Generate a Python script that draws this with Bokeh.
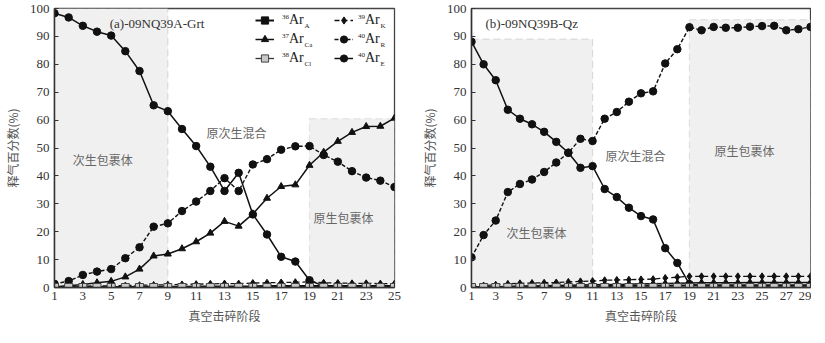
from bokeh.plotting import figure
from bokeh.models import (Range1d, FixedTicker, BoxAnnotation, Label, Legend, LegendItem)
from bokeh.layouts import row
from bokeh.embed import file_html
from bokeh.resources import INLINE

# ---------------- data ----------------
steps_a = [1, 2, 3, 4, 5, 6, 7, 8, 9, 10, 11, 12, 13, 14, 15, 16, 17, 18, 19, 20, 21, 22, 23, 24, 25]
ar40E_a = [98.3, 96.8, 93.8, 91.7, 90.3, 84.7, 77.6, 65.3, 63.2, 56.8, 50.7, 43.3, 34.6, 41.1, 26.2,
           19.0, 11.0, 9.3, 2.6, 0.5, 0.4, 0.4, 0.4, 0.3, 0.3]
ar40R_a = [1.3, 2.3, 4.5, 5.7, 6.6, 10.5, 14.4, 21.8, 23.0, 27.4, 30.8, 34.6, 39.2, 34.6, 44.1,
           46.0, 49.4, 50.6, 50.7, 47.5, 45.1, 41.7, 39.4, 38.3, 36.0]
ar37Ca_a = [0.3, 0.6, 1.1, 1.7, 2.2, 3.8, 6.6, 11.3, 12.0, 13.9, 16.4, 19.5, 23.7, 22.0, 26.4,
            32.0, 36.2, 36.8, 43.8, 48.5, 52.4, 55.6, 57.7, 57.8, 60.7]
ar39K_a = [0.3, 0.4, 0.5, 0.6, 0.6, 0.7, 0.8, 0.9, 1.0, 1.1, 1.2, 1.3, 1.4, 1.4, 1.6,
           1.7, 1.8, 1.9, 2.0, 1.7, 1.6, 1.5, 1.5, 1.4, 1.4]
ar36A_a = [0.1, 0.1, 0.2, 0.2, 0.2, 0.2, 0.3, 0.3, 0.3, 0.3, 0.4, 0.4, 0.4, 0.4, 0.4,
           0.5, 0.5, 0.5, 0.5, 0.5, 0.5, 0.5, 0.5, 0.5, 0.5]
ar38Cl_a = [0.0, 0.0, 0.0, 0.0, 0.0, 0.0, 0.0, 0.0, 0.0, 0.0, 0.0, 0.0, 0.0, 0.0, 0.0,
            0.0, 0.0, 0.0, 0.0, 0.0, 0.0, 0.0, 0.0, 0.0, 0.0]

steps_b = [1, 2, 3, 4, 5, 6, 7, 8, 9, 10, 11, 12, 13, 14, 15, 16, 17, 18, 19, 20, 21, 22, 23, 24, 25,
           26, 27, 28, 29]
ar40E_b = [88.1, 80.0, 74.3, 63.7, 60.5, 58.5, 55.8, 52.2, 48.3, 42.9, 43.5, 35.3, 32.4, 28.6, 25.6,
           24.4, 14.1, 8.8, 1.2, 0.6, 0.5, 0.5, 0.5, 0.5, 0.5, 0.5, 0.5, 0.5, 0.5]
ar40R_b = [10.8, 18.8, 24.0, 34.2, 37.1, 38.7, 41.4, 44.8, 48.3, 53.3, 52.5, 60.5, 62.9, 66.6, 69.6,
           70.3, 80.3, 85.4, 93.3, 92.2, 93.4, 93.1, 93.1, 93.5, 93.7, 93.8, 92.2, 92.6, 93.4]
ar39K_b = [0.3, 0.7, 1.0, 1.3, 1.5, 1.6, 1.7, 1.8, 2.0, 2.2, 2.3, 2.6, 2.7, 2.8, 2.9,
           3.0, 3.4, 3.7, 4.0, 4.0, 4.0, 4.0, 4.0, 4.0, 4.0, 4.0, 4.0, 4.0, 4.0]
ar37Ca_b = [0.1, 0.2, 0.3, 0.4, 0.5, 0.5, 0.6, 0.7, 0.8, 0.9, 1.0, 1.1, 1.1, 1.2, 1.3,
            1.3, 1.4, 1.5, 1.6, 1.7, 1.7, 1.7, 1.7, 1.8, 1.8, 1.8, 1.8, 1.8, 1.8]
ar36A_b = [0.1, 0.1, 0.2, 0.2, 0.2, 0.3, 0.3, 0.3, 0.4, 0.4, 0.4, 0.5, 0.5, 0.5, 0.6,
           0.6, 0.6, 0.7, 0.7, 0.8, 0.8, 0.8, 0.8, 0.8, 0.8, 0.8, 0.8, 0.8, 0.8]
ar38Cl_b = [0.0, 0.0, 0.0, 0.0, 0.0, 0.0, 0.0, 0.0, 0.0, 0.0, 0.0, 0.0, 0.0, 0.0, 0.0,
            0.0, 0.0, 0.0, 0.0, 0.0, 0.0, 0.0, 0.0, 0.0, 0.0, 0.0, 0.0, 0.0, 0.0]

ticks_a = [1, 3, 5, 7, 9, 11, 13, 15, 17, 19, 21, 23, 25]
ticks_b = [1, 3, 5, 7, 9, 11, 13, 15, 17, 19, 21, 23, 25, 27, 29]
y_ticks = [0, 10, 20, 30, 40, 50, 60, 70, 80, 90, 100]

# stage regions (left, right, top)
regions_a = [(1, 9, 100), (19, 25, 60.5)]
regions_b = [(1, 11, 89), (19, 29, 96)]

region_names = ["次生包裹体", "原次生混合", "原生包裹体"]
sample_a = "(a)-09NQ39A-Grt"
sample_b = "(b)-09NQ39B-Qz"
x_title = "真空击碎阶段"
y_title = "释气百分数(%)"

legend_sup = ["36", "39", "37", "40", "38", "40"]
legend_sub = ["A", "K", "Ca", "R", "Cl", "E"]

SERIF = "Liberation Serif"
CJK = "Noto Sans CJK SC"
FRAME_H = 279


def make_fig(xmax, fw, bl, br, ticks):
    p = figure(frame_width=fw, frame_height=FRAME_H, min_border_left=bl, min_border_right=br,
               min_border_top=8, min_border_bottom=40,
               x_range=Range1d(1, xmax), y_range=Range1d(0, 100),
               output_backend="svg", toolbar_location=None)
    p.xgrid.visible = False
    p.ygrid.visible = False
    p.outline_line_color = "#444444"
    p.outline_line_width = 1.3
    p.background_fill_color = "white"
    p.border_fill_color = "white"
    p.xaxis.ticker = FixedTicker(ticks=ticks)
    p.yaxis.ticker = FixedTicker(ticks=y_ticks)
    for ax in (p.xaxis[0], p.yaxis[0]):
        ax.axis_line_color = "#333333"
        ax.axis_line_width = 1.5
        ax.major_tick_line_color = "#333333"
        ax.major_tick_in = 4
        ax.major_tick_out = 0
        ax.minor_tick_line_color = None
        ax.major_label_text_font = SERIF
        ax.major_label_text_font_size = "13px"
        ax.major_label_text_color = "#333333"
        ax.axis_label_text_font = CJK
        ax.axis_label_text_font_size = "12px"
        ax.axis_label_text_font_style = "normal"
        ax.axis_label_text_color = "#555555"
    p.xaxis.major_label_standoff = 4
    p.xaxis.axis_label_standoff = 4
    p.yaxis.major_label_standoff = 5
    p.yaxis.axis_label_standoff = 6
    p.xaxis.axis_label = x_title
    p.yaxis.axis_label = y_title
    return p


def add_regions(p, regions, colors):
    for (l, r, t), c in zip(regions, colors):
        p.add_layout(BoxAnnotation(left=l, right=r, bottom=0, top=t, fill_color="#f0f0f0",
                                   fill_alpha=1.0, line_color=c, line_width=1.2,
                                   line_dash="7 4", level="underlay"))


def add_series(p, x, ys):
    ar36A, ar39K, ar37Ca, ar40R, ar38Cl, ar40E = ys
    rs = {}
    l = p.line(x, ar40R, line_color="#111111", line_width=1.4, line_dash="4 2")
    m = p.scatter(x, ar40R, marker="circle", size=7.5, fill_color="#111111", line_color="#111111")
    rs["40R"] = [l, m]
    l = p.line(x, ar40E, line_color="#111111", line_width=1.5)
    m = p.scatter(x, ar40E, marker="circle", size=7.5, fill_color="#111111", line_color="#111111")
    rs["40E"] = [l, m]
    l = p.line(x, ar37Ca, line_color="#111111", line_width=1.5)
    m = p.scatter(x, ar37Ca, marker="triangle", size=7, fill_color="#111111", line_color="#111111")
    rs["37Ca"] = [l, m]
    l = p.line(x, ar39K, line_color="#111111", line_width=1.3, line_dash="5 3")
    m = p.scatter(x, ar39K, marker="diamond", size=7, fill_color="#111111", line_color="#111111")
    rs["39K"] = [l, m]
    l = p.line(x, ar36A, line_color="#111111", line_width=2)
    m = p.scatter(x, ar36A, marker="square", size=5, fill_color="#111111", line_color="#111111")
    rs["36A"] = [l, m]
    l = p.line(x, ar38Cl, line_color="#333333", line_width=1.3)
    m = p.scatter(x, ar38Cl, marker="square", size=8, fill_color="#c8c8c8", line_color="#444444",
                  line_width=1)
    rs["38Cl"] = [l, m]
    return rs


def add_text(p, x, y, txt, font, size, color, align="center"):
    p.add_layout(Label(x=x, y=y, text=txt, text_font=font, text_font_size=size,
                       text_color=color, text_align=align, text_baseline="middle"))


# ---------------- left panel ----------------
p1 = make_fig(25, 340, 44, 16, ticks_a)
add_regions(p1, regions_a, ["#999999", "#b5b5b5"])
rs = add_series(p1, steps_a, [ar36A_a, ar39K_a, ar37Ca_a, ar40R_a, ar38Cl_a, ar40E_a])

add_text(p1, 4.9, 94.8, sample_a, SERIF, "13px", "#333333", "left")
add_text(p1, 4.4, 46.0, region_names[0], CJK, "12px", "#666666")
add_text(p1, 13.85, 55.5, region_names[1], CJK, "12px", "#666666")
add_text(p1, 21.4, 25.2, region_names[2], CJK, "12px", "#666666")

# legend: two columns
keys = ["36A", "39K", "37Ca", "40R", "38Cl", "40E"]
row_h, row_gap, leg_top = 18, 1, 3
leg_h = 3 * row_h + 2 * row_gap
col_x = [201, 280]
col_standoff = [15, 12]
glyph_w = 19
for c in range(2):
    items = [LegendItem(label="Ar", renderers=rs[keys[2 * r + c]]) for r in range(3)]
    leg = Legend(items=items, location=(col_x[c], FRAME_H - leg_top - leg_h),
                 orientation="vertical", padding=0, margin=0, spacing=row_gap,
                 glyph_width=glyph_w, glyph_height=row_h, label_height=row_h,
                 label_standoff=col_standoff[c], border_line_color=None,
                 background_fill_alpha=0, label_text_font=SERIF,
                 label_text_font_size="14px", label_text_color="#222222")
    p1.add_layout(leg)
    ar_x = col_x[c] + glyph_w + col_standoff[c]
    for r in range(3):
        k = 2 * r + c
        cy = FRAME_H - (leg_top + row_h / 2 + r * (row_h + row_gap))
        p1.add_layout(Label(x=ar_x - 0.5, y=cy + 4, x_units="screen", y_units="screen",
                            text=legend_sup[k], text_font=SERIF, text_font_size="7px",
                            text_color="#222222", text_align="right", text_baseline="middle"))
        p1.add_layout(Label(x=ar_x + 15, y=cy - 5, x_units="screen", y_units="screen",
                            text=legend_sub[k], text_font=SERIF, text_font_size="7px",
                            text_color="#222222", text_align="left", text_baseline="middle"))

# ---------------- right panel ----------------
p2 = make_fig(29, 339, 61, 1, ticks_b)
add_regions(p2, regions_b, ["#999999", "#aaaaaa"])
add_series(p2, steps_b, [ar36A_b, ar39K_b, ar37Ca_b, ar40R_b, ar38Cl_b, ar40E_b])
add_text(p2, 2.16, 94.5, sample_b, SERIF, "13px", "#333333", "left")
add_text(p2, 6.37, 19.7, region_names[0], CJK, "12px", "#666666")
add_text(p2, 14.55, 47.2, region_names[1], CJK, "12px", "#666666")
add_text(p2, 23.55, 49.0, region_names[2], CJK, "12px", "#666666")

layout = row(p1, p2)
open("out.html", "w").write(file_html(layout, INLINE))
